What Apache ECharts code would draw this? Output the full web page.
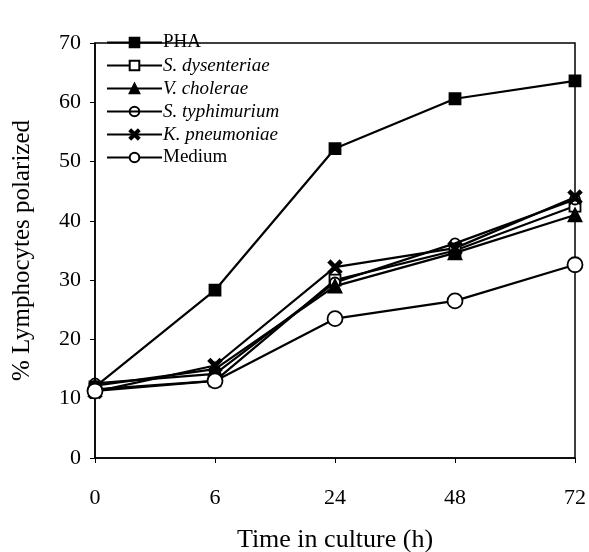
<!DOCTYPE html>
<html>
<head>
<meta charset="utf-8">
<script src="https://cdn.jsdelivr.net/npm/echarts@6/dist/echarts.min.js"></script>
<style>
html, body { margin: 0; padding: 0; background: #fff; }
#chart { width: 589px; height: 552px; }
</style>
</head>
<body>
<div id="chart"></div>
<script>
var hours = ['0', '6', '24', '48', '72'];
var pha = [12, 28.3, 52.2, 60.6, 63.6];
var dysenteriae = [11.6, 13, 30, 35, 42.5];
var cholerae = [12.2, 15, 29, 34.6, 41];
var typhimurium = [12.6, 14.2, 29.6, 36.2, 43.6];
var pneumoniae = [11.2, 15.6, 32.2, 35.4, 44];
var medium = [11.3, 13, 23.5, 26.5, 32.6];

var italicNames = ['S. dysenteriae', 'V. cholerae', 'S. typhimurium', 'K. pneumoniae'];
var xPath = 'path://M0,3 L3,0 L10,7 L17,0 L20,3 L13,10 L20,17 L17,20 L10,13 L3,20 L0,17 L7,10 Z';

var myChart = echarts.init(document.getElementById('chart'));

function mkSeries(name, data, symbol, size, fill) {
    return {
        name: name,
        type: 'line',
        data: data,
        symbol: symbol,
        symbolSize: size,
        showAllSymbol: true,
        lineStyle: { color: '#000', width: 2.2 },
        itemStyle: { color: fill, borderColor: '#000', borderWidth: 1.8 },
        emphasis: { disabled: true },
        animation: false
    };
}

myChart.setOption({
    backgroundColor: '#fff',
    grid: { left: 95, right: 14, top: 43, bottom: 94, outerBoundsMode: 'none', containLabel: false },
    legend: {
        orient: 'vertical',
        left: 101,
        top: 28,
        itemWidth: 55,
        itemHeight: 12,
        itemGap: 4,
        data: ['PHA', 'S. dysenteriae', 'V. cholerae', 'S. typhimurium', 'K. pneumoniae', 'Medium'],
        formatter: function(name) {
            if (italicNames.indexOf(name) >= 0) return '{i|' + name + '}';
            return name;
        },
        textStyle: {
            fontFamily: 'Liberation Serif',
            fontSize: 19,
            color: '#000',
            padding: [0, 0, 0, -4],
            rich: {
                i: { fontFamily: 'Liberation Serif', fontSize: 19, fontStyle: 'italic', color: '#000' }
            }
        }
    },
    xAxis: {
        type: 'category',
        data: hours,
        boundaryGap: false,
        name: 'Time in culture (h)',
        nameLocation: 'middle',
        nameGap: 69,
        nameTextStyle: { fontFamily: 'Liberation Serif', fontSize: 26, color: '#000' },
        axisLine: { lineStyle: { color: '#000', width: 1.5 } },
        axisTick: { show: true, alignWithLabel: true, length: 5, lineStyle: { color: '#000' } },
        axisLabel: { fontFamily: 'Liberation Serif', fontSize: 22, color: '#000', margin: 29 },
        splitLine: { show: false }
    },
    yAxis: {
        type: 'value',
        min: 0,
        max: 70,
        interval: 10,
        name: '% Lymphocytes polarized',
        nameLocation: 'middle',
        nameGap: 60,
        nameTextStyle: { fontFamily: 'Liberation Serif', fontSize: 25, color: '#000' },
        axisLine: { show: true, lineStyle: { color: '#000', width: 1.5 } },
        axisTick: { show: true, length: 5, lineStyle: { color: '#000' } },
        axisLabel: { fontFamily: 'Liberation Serif', fontSize: 22, color: '#000', margin: 14 },
        splitLine: { show: false }
    },
    graphic: [{
        type: 'rect',
        shape: { x: 95, y: 43, width: 480, height: 415 },
        style: { fill: 'none', stroke: '#000', lineWidth: 1.5 },
        silent: true
    }],
    series: [
        mkSeries('PHA', pha, 'rect', 11, '#000'),
        mkSeries('S. dysenteriae', dysenteriae, 'rect', 11, '#fff'),
        mkSeries('V. cholerae', cholerae, 'triangle', 13, '#000'),
        mkSeries('S. typhimurium', typhimurium, 'circle', 10, 'rgba(255,255,255,0)'),
        mkSeries('K. pneumoniae', pneumoniae, xPath, 13, '#000'),
        mkSeries('Medium', medium, 'circle', 15, '#fff')
    ]
});
</script>
</body>
</html>
